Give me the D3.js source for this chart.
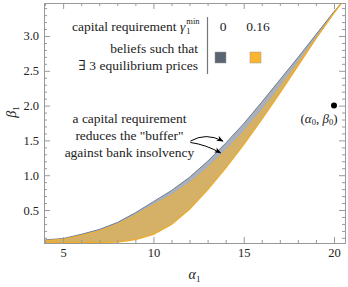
<!DOCTYPE html>
<html>
<head>
<meta charset="utf-8">
<script src="https://d3js.org/d3.v7.min.js"></script>
<style>
  body { margin: 0; background: #fff; }
  svg text { font-family: "Liberation Serif", "Times New Roman", "DejaVu Serif", serif; fill: #222; }
  .tick line { stroke: #999; }
  .domain { stroke: #999; }
</style>
</head>
<body>
<script>
// alpha_1 sample points and region boundaries
var alpha = [4, 5, 6, 7, 8, 9, 10, 11, 12, 13, 14, 15, 16, 17, 18, 19, 20, 20.4];
// upper edge of the gamma=0 region
var upperGray = [0.07, 0.09, 0.15, 0.22, 0.32, 0.46, 0.62, 0.78, 0.97, 1.2, 1.46, 1.74, 2.05, 2.37, 2.69, 3.02, 3.35, 3.47];
// upper edge of the gamma=0.16 region
var upperOrange = [0.06, 0.08, 0.135, 0.20, 0.295, 0.425, 0.57, 0.71, 0.885, 1.1, 1.35, 1.62, 1.93, 2.26, 2.61, 2.97, 3.33, 3.47];
// common lower edge
var lower = [0.035, 0.035, 0.035, 0.035, 0.04, 0.075, 0.15, 0.29, 0.51, 0.79, 1.10, 1.44, 1.80, 2.18, 2.57, 2.96, 3.33, 3.47];

var xTicks = [5, 10, 15, 20];
var yTicks = [0.5, 1.0, 1.5, 2.0, 2.5, 3.0];
var gammaLabels = ["0", "0.16"];
var point0 = {a: 20, b: 2.0};

var W = 348, H = 287;
var pL = 44, pR = 345, pT = 3, pB = 243;
var serif = "'Liberation Serif', 'Times New Roman', serif";
var fs = 13.5;

var svg = d3.select("body").append("svg")
    .attr("width", W)
    .attr("height", H)
    .attr("font-family", serif);

var x = d3.scaleLinear().domain([3.94, 20.61]).range([pL, pR]);
var y = d3.scaleLinear().domain([0.026, 3.474]).range([pB, pT]);

svg.append("clipPath").attr("id", "clip")
  .append("rect")
    .attr("x", pL).attr("y", pT)
    .attr("width", pR - pL).attr("height", pB - pT);

var plot = svg.append("g").attr("clip-path", "url(#clip)");

function rows(up) {
    return alpha.map(function (a, i) { return {a: a, u: up[i], l: lower[i]}; });
}

var area = d3.area()
    .x(function (d) { return x(d.a); })
    .y0(function (d) { return y(d.l); })
    .y1(function (d) { return y(d.u); });

var lineU = d3.line().x(function (d) { return x(d.a); }).y(function (d) { return y(d.u); });
var lineL = d3.line().x(function (d) { return x(d.a); }).y(function (d) { return y(d.l); });

plot.append("path")
    .datum(rows(upperGray))
    .attr("d", area)
    .attr("fill", "#aab0ba");
plot.append("path")
    .datum(rows(upperGray))
    .attr("d", lineU)
    .attr("fill", "none")
    .attr("stroke", "#6f7d90")
    .attr("stroke-width", 1);

plot.append("path")
    .datum(rows(upperOrange))
    .attr("d", area)
    .attr("fill", "#d4b166");
plot.append("path")
    .datum(rows(upperOrange))
    .attr("d", lineU)
    .attr("fill", "none")
    .attr("stroke", "#f5b02a")
    .attr("stroke-width", 1);
plot.append("path")
    .datum(rows(upperOrange))
    .attr("d", lineL)
    .attr("fill", "none")
    .attr("stroke", "#f0ac28")
    .attr("stroke-width", 1.2);

// frame axes, ticks inward
var xMinor = d3.range(4, 21).filter(function (v) { return xTicks.indexOf(v) < 0; });
var yMinor = d3.range(1, 35).map(function (v) { return v / 10; })
    .filter(function (v) { return yTicks.indexOf(Math.round(v * 10) / 10) < 0 && v < 3.47; });

function addAxis(axisFn, scale, vals, minor, transform, labels) {
    var g = svg.append("g").attr("transform", transform);
    g.call(axisFn(scale).tickValues(minor).tickSize(-3).tickFormat(""));
    var g2 = svg.append("g").attr("transform", transform);
    g2.call(axisFn(scale).tickValues(vals).tickSize(-6).tickPadding(labels ? 5 : 0)
        .tickFormat(labels ? labels : ""));
    g2.attr("font-family", serif);
    g2.selectAll("text").attr("font-size", 12.5).attr("fill", "#222");
    g.select(".domain").remove();
    return g2;
}

addAxis(d3.axisBottom, x, xTicks, xMinor, "translate(0," + pB + ")", d3.format("d"));
addAxis(d3.axisTop, x, xTicks, xMinor, "translate(0," + pT + ")", null);
addAxis(d3.axisLeft, y, yTicks, yMinor, "translate(" + pL + ",0)", d3.format(".1f"));
addAxis(d3.axisRight, y, yTicks, yMinor, "translate(" + pR + ",0)", null);

// axis labels
var ax = svg.append("text")
    .attr("x", (pL + pR) / 2).attr("y", 279)
    .attr("text-anchor", "middle").attr("font-size", 14);
ax.append("tspan").attr("font-style", "italic").text("α");
ax.append("tspan").attr("font-size", 9).attr("dy", 3).text("1");

var ay = svg.append("text")
    .attr("transform", "translate(16,112) rotate(-90)")
    .attr("text-anchor", "middle").attr("font-size", 14);
ay.append("tspan").attr("font-style", "italic").text("β");
ay.append("tspan").attr("font-size", 9).attr("dy", 3).text("1");

// (alpha0, beta0) point
svg.append("circle")
    .attr("cx", x(point0.a)).attr("cy", y(point0.b))
    .attr("r", 3).attr("fill", "#000");
var pl = svg.append("text")
    .attr("x", x(point0.a) - 15).attr("y", y(point0.b) + 17)
    .attr("text-anchor", "middle").attr("font-size", 13);
pl.append("tspan").text("(");
pl.append("tspan").attr("font-style", "italic").text("α");
pl.append("tspan").attr("font-size", 8.5).attr("dy", 2).text("0");
pl.append("tspan").attr("dy", -2).text(", ");
pl.append("tspan").attr("font-style", "italic").text("β");
pl.append("tspan").attr("font-size", 8.5).attr("dy", 2).text("0");
pl.append("tspan").attr("dy", -2).text(")");

// legend
var leg = svg.append("g");
var t1 = leg.append("text").attr("x", 72).attr("y", 31).attr("font-size", fs);
t1.append("tspan").text("capital requirement ");
t1.append("tspan").attr("font-style", "italic").text("γ");
var tl = t1.node().getComputedTextLength();
leg.append("text").attr("x", 72 + tl + 1).attr("y", 34).attr("font-size", 8.5).text("1");
leg.append("text").attr("x", 72 + tl + 1).attr("y", 24).attr("font-size", 8.5).text("min");

leg.append("text").attr("x", 198).attr("y", 53).attr("font-size", fs)
    .attr("text-anchor", "end").text("beliefs such that");
leg.append("text").attr("x", 198).attr("y", 70).attr("font-size", fs)
    .attr("text-anchor", "end").text("∃ 3 equilibrium prices");

leg.append("line")
    .attr("x1", 207.5).attr("x2", 207.5).attr("y1", 17).attr("y2", 74)
    .attr("stroke", "#777").attr("stroke-width", 1.2);

var swCol = ["#5a6573", "#fbb52c"];
var swX = [223, 258];
gammaLabels.forEach(function (s, i) {
    leg.append("text").attr("x", swX[i]).attr("y", 31).attr("font-size", fs)
        .attr("text-anchor", "middle").text(s);
    leg.append("rect")
        .attr("x", swX[i] - 8).attr("y", 52)
        .attr("width", 11).attr("height", 11)
        .attr("fill", swCol[i]).attr("stroke", "#999").attr("stroke-width", 0.5);
});

// annotation
var note = ["a capital requirement", "reduces the \"buffer\"", "against bank insolvency"];
note.forEach(function (s, i) {
    svg.append("text").attr("x", 129.5).attr("y", 123 + i * 17)
        .attr("text-anchor", "middle").attr("font-size", fs).text(s);
});

svg.append("defs").append("marker")
    .attr("id", "arr").attr("viewBox", "0 0 10 10")
    .attr("refX", 9).attr("refY", 5)
    .attr("markerWidth", 7).attr("markerHeight", 7)
    .attr("orient", "auto")
  .append("path").attr("d", "M0,1L10,5L0,9L3,5Z").attr("fill", "#000");

var arrows = [
    {from: [12.05, 1.49], ctrl: [12.9, 1.62], to: [13.85, 1.49]},
    {from: [12.05, 1.47], ctrl: [12.9, 1.44], to: [13.72, 1.32]}
];
arrows.forEach(function (d) {
    var p = d3.path();
    p.moveTo(x(d.from[0]), y(d.from[1]));
    p.quadraticCurveTo(x(d.ctrl[0]), y(d.ctrl[1]), x(d.to[0]), y(d.to[1]));
    svg.append("path").attr("d", p.toString())
        .attr("fill", "none").attr("stroke", "#000").attr("stroke-width", 1)
        .attr("marker-end", "url(#arr)");
});
</script>
</body>
</html>
